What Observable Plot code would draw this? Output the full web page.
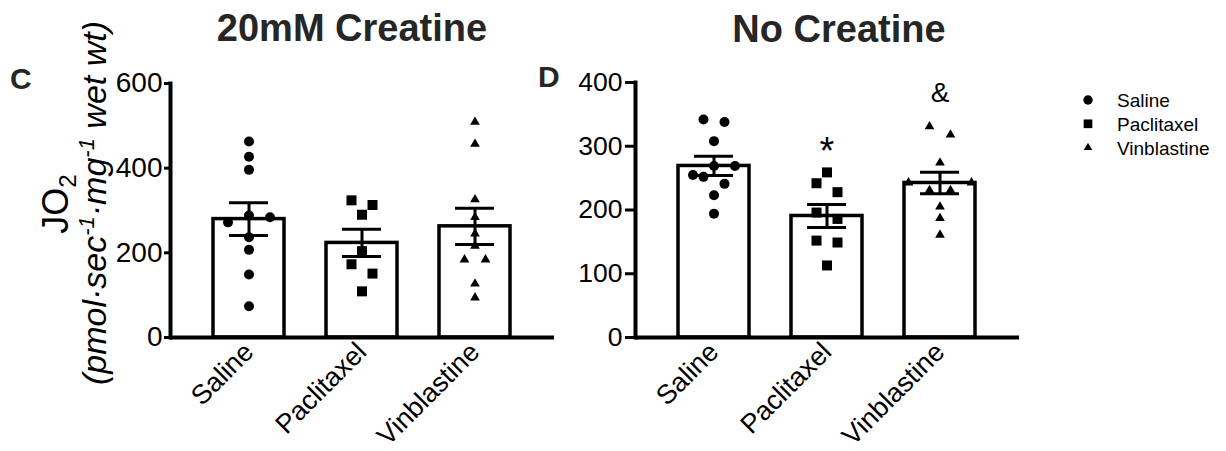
<!DOCTYPE html>
<html><head><meta charset="utf-8">
<script src="https://cdn.jsdelivr.net/npm/d3@7"></script>
<script src="https://cdn.jsdelivr.net/npm/@observablehq/plot@0.6"></script>
<style>
body{margin:0;background:#fff;font-family:"Liberation Sans",Arial,Helvetica,sans-serif;}
#root{position:relative;width:1226px;height:451px;overflow:hidden;background:#fff;}
#root > svg, #root > div{position:absolute;top:0;}
</style></head><body><div id="root"></div>
<script>
// ---------- data ----------
const groups = ["Saline", "Paclitaxel", "Vinblastine"];
const symbols = ["circle", "square", "triangle"];
const panelTitles = ["20mM Creatine", "No Creatine"];
const panelLetters = ["C", "D"];
const yTicksCreatine = [0, 200, 400, 600];
const yTicksNoCreatine = [0, 100, 200, 300, 400];

const creatineSaline = [463, 427, 396, 288, 284, 272, 237, 207, 149, 74];
const creatinePaclitaxel = [324, 313, 290, 204, 173, 151, 109];
const creatineVinblastine = [509, 457, 326, 284, 245, 216, 184, 184, 127, 94];

const noCreatineSaline = [342, 338, 308, 269, 269, 255, 252, 241, 223, 194];
const noCreatinePaclitaxel = [259, 242, 228, 196, 186, 152, 149, 113];
const noCreatineVinblastine = [331, 318, 274, 243, 243, 231, 231, 205, 187, 161];

const significance = [
  {panel: "No Creatine", group: "Paclitaxel", label: "*", value: 292},
  {panel: "No Creatine", group: "Vinblastine", label: "&", value: 384}
];

// ---------- layout ----------
const FONT = '"Liberation Sans", Arial, Helvetica, sans-serif';
const H = 451;
const symbolR = {circle: 5, square: 5.64, triangle: 3.6};
const binPx = 10, spreadPx = 21;

function jitter(vals, pxPerUnit) {
  const idx = d3.range(vals.length).sort((a, b) => vals[b] - vals[a]);
  const bins = []; let cur = null;
  for (const i of idx) {
    if (cur && (vals[cur[0]] - vals[i]) * pxPerUnit < binPx) cur.push(i);
    else { cur = [i]; bins.push(cur); }
  }
  const off = new Array(vals.length).fill(0);
  for (const b of bins) {
    const k = b.length;
    const slots = d3.range(k).map(j => j - (k - 1) / 2);
    slots.sort((a, c) => k % 2 ? (Math.abs(a) - Math.abs(c) || c - a) : (Math.abs(c) - Math.abs(a) || a - c));
    b.forEach((i, j) => off[i] = slots[j] * spreadPx);
  }
  return off;
}

function panel(cfg) {
  const {name, series, yticks, left, width, marginLeft, marginRight, marginTop, marginBottom, tickSize, tickPadding, tickFont} = cfg;
  const ymax = d3.max(yticks);
  const pxPerUnit = (H - marginTop - marginBottom) / ymax;
  const stats = groups.map((g, gi) => {
    const vs = series[gi];
    const m = d3.mean(vs), sem = d3.deviation(vs) / Math.sqrt(vs.length);
    return {group: g, mean: m, lo: m - sem, hi: m + sem};
  });
  const dots = [];
  groups.forEach((g, gi) => {
    const vs = series[gi];
    const off = jitter(vs, pxPerUnit);
    const byOff = d3.group(vs.map((v, i) => ({group: g, value: v, off: off[i]})), d => d.off);
    for (const [o, pts] of byOff) {
      dots.push(Plot.dot(pts, {x: "group", y: "value", symbol: symbols[gi], r: symbolR[symbols[gi]], fill: "black", stroke: "none", dx: o}));
    }
  });
  const ann = significance.filter(d => d.panel === name);
  const chart = Plot.plot({
    width, height: H, marginLeft, marginRight, marginTop, marginBottom,
    style: {fontFamily: FONT, background: "transparent", color: "black", overflow: "visible"},
    x: {type: "band", domain: groups, padding: 0.37, label: null},
    y: {domain: [0, ymax], label: null},
    marks: [
      Plot.barY(stats, {x: "group", y: "mean", fill: "white", stroke: "black", strokeWidth: 3.5}),
      ...dots,
      Plot.ruleX(stats, {x: "group", y1: "lo", y2: "hi", stroke: "black", strokeWidth: 3}),
      Plot.tickY(stats, {x: "group", y: "hi", stroke: "black", strokeWidth: 3, insetLeft: 16, insetRight: 16}),
      Plot.tickY(stats, {x: "group", y: "lo", stroke: "black", strokeWidth: 3, insetLeft: 16, insetRight: 16}),
      Plot.text(ann, {x: "group", y: "value", text: "label", fontSize: d => d.label === "*" ? 38 : 28, fill: "black"}),
      Plot.axisY({ticks: yticks, tickSize, tickPadding, tickFormat: d => String(d), fontSize: tickFont, strokeWidth: 3, label: null}),
      Plot.axisX({tickRotate: -45, tickSize: 0, tickPadding: 10, fontSize: 27, label: null}),
      Plot.ruleY([0], {stroke: "black", strokeWidth: 4}),
      Plot.frame({anchor: "left", stroke: "black", strokeWidth: 4})
    ]
  });
  chart.style.left = left + "px";
  return chart;
}

const root = document.getElementById("root");
root.appendChild(panel({name: "20mM Creatine", series: [creatineSaline, creatinePaclitaxel, creatineVinblastine],
  yticks: yTicksCreatine, left: 0, width: 560, marginLeft: 170, marginRight: 6, marginTop: 83, marginBottom: 114, tickSize: 6, tickPadding: 2, tickFont: 28}));
root.appendChild(panel({name: "No Creatine", series: [noCreatineSaline, noCreatinePaclitaxel, noCreatineVinblastine],
  yticks: yTicksNoCreatine, left: 520, width: 520, marginLeft: 115, marginRight: 21, marginTop: 82, marginBottom: 114, tickSize: 10, tickPadding: 3, tickFont: 26.5}));

// ---------- overlay: titles, panel letters, y label, legend ----------
const ov = d3.select(root).append("svg").attr("width", 1226).attr("height", H)
  .style("left", "0px").style("font-family", FONT).style("pointer-events", "none");
const titleColor = "#262626";
[[352, 41], [839, 41.5]].forEach(([x, y], i) =>
  ov.append("text").attr("x", x).attr("y", y).attr("text-anchor", "middle").attr("font-size", 38)
    .attr("font-weight", "bold").attr("fill", titleColor).text(panelTitles[i]));
[[10, 89], [538, 87]].forEach(([x, y], i) =>
  ov.append("text").attr("x", x).attr("y", y).attr("font-size", 30).attr("font-weight", "bold")
    .attr("fill", titleColor).text(panelLetters[i]));

const yl1 = ov.append("text").attr("transform", "translate(68,204) rotate(-90)").attr("text-anchor", "middle").attr("font-size", 36).attr("fill", "black");
yl1.append("tspan").text("JO");
yl1.append("tspan").attr("dy", 8).attr("font-size", 24).text("2");
const yl2 = ov.append("text").attr("transform", "translate(106,203) rotate(-90)").attr("text-anchor", "middle").attr("font-size", 34).attr("font-style", "italic").attr("fill", "black");
yl2.append("tspan").text("(pmol·sec");
yl2.append("tspan").attr("dy", -12).attr("font-size", 22).text("-1");
yl2.append("tspan").attr("dy", 12).text("·mg");
yl2.append("tspan").attr("dy", -12).attr("font-size", 22).text("-1");
yl2.append("tspan").attr("dy", 12).text(" wet wt)");

const legendSize = {circle: 70, square: 75, triangle: 32};
const symMap = {circle: d3.symbolCircle, square: d3.symbolSquare, triangle: d3.symbolTriangle};
groups.forEach((g, i) => {
  const cy = 100 + i * 23.8;
  ov.append("path").attr("transform", `translate(1088,${cy})`)
    .attr("d", d3.symbol(symMap[symbols[i]], legendSize[symbols[i]])()).attr("fill", "black");
  ov.append("text").attr("x", 1117).attr("y", cy + 7).attr("font-size", 19).attr("fill", "black").text(g);
});
</script></body></html>
